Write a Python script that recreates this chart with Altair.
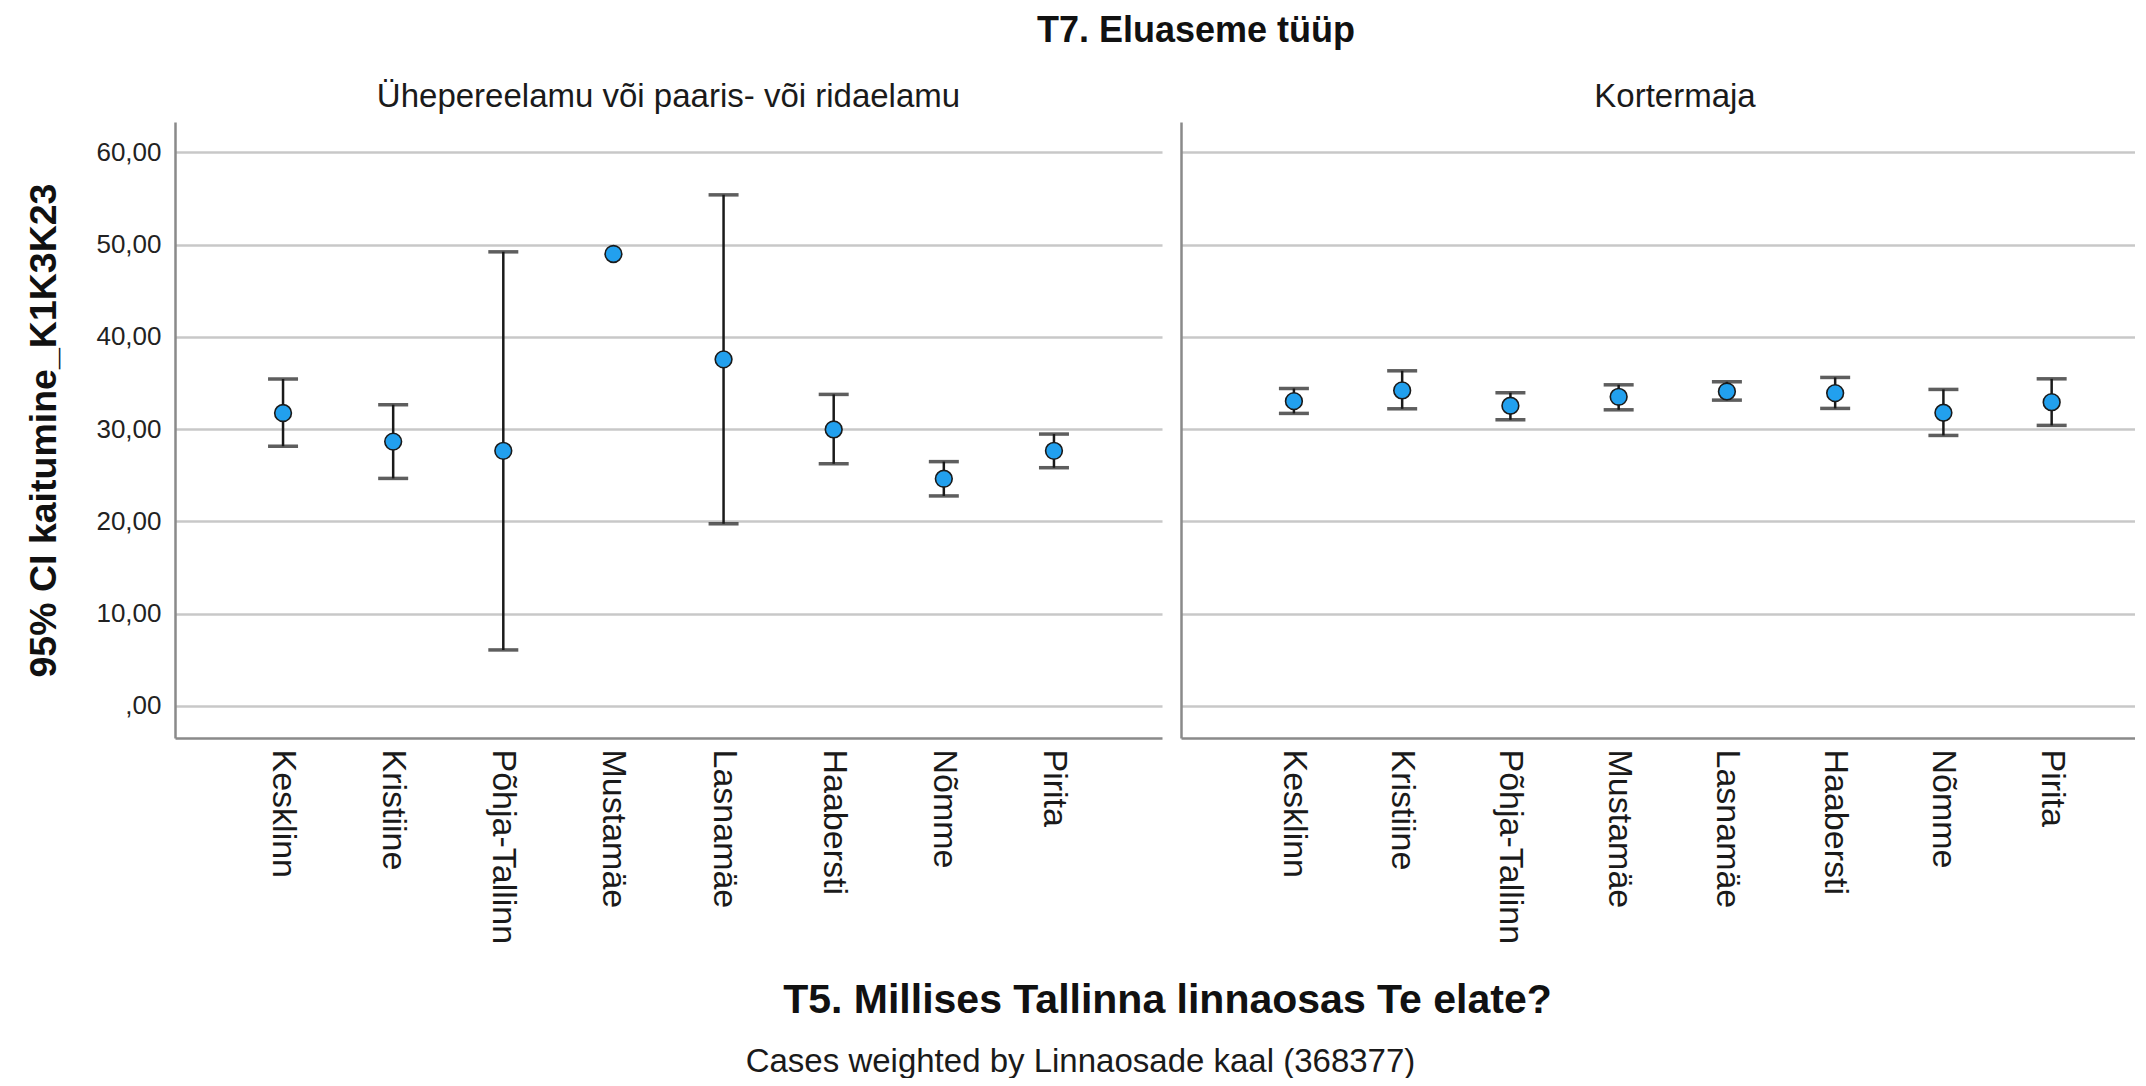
import altair as alt
import pandas as pd

districts = ["Kesklinn", "Kristiine", "Põhja-Tallinn", "Mustamäe",
             "Lasnamäe", "Haabersti", "Nõmme", "Pirita"]
panel_titles = ["Ühepereelamu või paaris- või ridaelamu", "Kortermaja"]

house_mean = [31.74, 28.64, 27.64, 48.99, 37.56, 29.96, 24.61, 27.64]
house_low = [28.14, 24.65, 6.05, None, 19.73, 26.24, 22.75, 25.81]
house_high = [35.43, 32.64, 49.22, None, 55.40, 33.76, 26.47, 29.46]

flat_mean = [33.03, 34.19, 32.53, 33.50, 34.08, 33.90, 31.77, 32.92]
flat_low = [31.70, 32.20, 31.01, 32.09, 33.14, 32.24, 29.31, 30.40]
flat_high = [34.40, 36.32, 33.94, 34.80, 35.13, 35.60, 34.30, 35.45]

y_ticks = [0, 10, 20, 30, 40, 50, 60]

FONT = "Liberation Sans"
PLOT_H = 616
Y_DOMAIN = [-3.5, 63.3]
LABEL_EXPR = "datum.value == 0 ? ',00' : replace(format(datum.value, '.2f'), '.', ',')"


def make_df(means, lows, highs):
    return pd.DataFrame({"district": districts, "mean": means, "low": lows, "high": highs})


def panel(df, title, width, pad, align, title_dx, x_axis, y_axis):
    x = alt.X("district:N", sort=districts,
              scale=alt.Scale(domain=districts, padding=pad, align=align), axis=x_axis)
    yscale = alt.Scale(domain=Y_DOMAIN, nice=False, zero=False)
    base = alt.Chart(df)
    bars = base.mark_rule(color="#1a1a1a", strokeWidth=2.5).encode(
        x=x, y=alt.Y("low:Q", scale=yscale, axis=y_axis), y2="high:Q")
    cap_lo = base.mark_tick(color="#1a1a1a", size=30, thickness=3.5).encode(
        x=x, y=alt.Y("low:Q", scale=yscale))
    cap_hi = base.mark_tick(color="#1a1a1a", size=30, thickness=3.5).encode(
        x=x, y=alt.Y("high:Q", scale=yscale))
    pts = base.mark_point(filled=True, shape="circle", size=280, fill="#22a0ee",
                          stroke="#1a1a1a", strokeWidth=1.6, opacity=1).encode(
        x=x, y=alt.Y("mean:Q", scale=yscale))
    return alt.layer(bars, cap_lo, cap_hi, pts).properties(
        width=width, height=PLOT_H,
        title=alt.TitleParams(title, fontSize=33, fontWeight="normal", font=FONT,
                              color="#1a1a1a", anchor="middle", offset=8, dx=title_dx))


common_x = dict(labelAngle=90, labelFontSize=34, labelColor="#1a1a1a", labelFont=FONT,
                labelPadding=11, labelLimit=0, ticks=False, domainColor="#8a8a8a",
                domainWidth=2.5, titleFont=FONT, titleAngle=0, titleAlign="center",
                titleBaseline="middle")

left_x_axis = alt.Axis(title="T5. Millises Tallinna linnaosas Te elate?", titleFontSize=41,
                       titleFontWeight="bold", titleColor="#111111", titleX=992, titleY=262,
                       **common_x)
right_x_axis = alt.Axis(title="Cases weighted by Linnaosade kaal (368377)", titleFontSize=33,
                        titleFontWeight="normal", titleColor="#1a1a1a", titleX=-101, titleY=323,
                        **common_x)

common_y = dict(values=y_ticks, grid=True, gridColor="#c8c8c8", gridWidth=2.5, ticks=False,
                domainColor="#8a8a8a", domainWidth=2.5)

left_y_axis = alt.Axis(title="95% CI kaitumine_K1K3K23", labelExpr=LABEL_EXPR, labelFontSize=26,
                       labelColor="#222222", labelFont=FONT, labelPadding=14,
                       titleFont=FONT, titleFontSize=37.5, titleFontWeight="bold",
                       titleColor="#111111", titleAngle=270, titleX=-131, titleY=308,
                       titleAlign="center", titleBaseline="middle", **common_y)
right_y_axis = alt.Axis(title=None, labels=False, **common_y)

left = panel(make_df(house_mean, house_low, house_high), panel_titles[0], 987, 0.962, 0.5, 0,
             left_x_axis, left_y_axis)
right = panel(make_df(flat_mean, flat_low, flat_high), panel_titles[1], 954, 0.813, 0.584, 17,
              right_x_axis, right_y_axis)

chart = alt.hconcat(left, right, spacing=19, bounds="flush").properties(
    title=alt.TitleParams("T7. Eluaseme tüüp", fontSize=36, fontWeight="bold", font=FONT,
                          color="#111111", anchor="middle", dx=116, offset=31),
    padding={"left": 17, "top": 5, "right": 0, "bottom": 0},
).configure(font=FONT, view=alt.ViewConfig(stroke="transparent", strokeWidth=0))

chart.save("out.html", embed_options={"renderer": "svg", "actions": False})
